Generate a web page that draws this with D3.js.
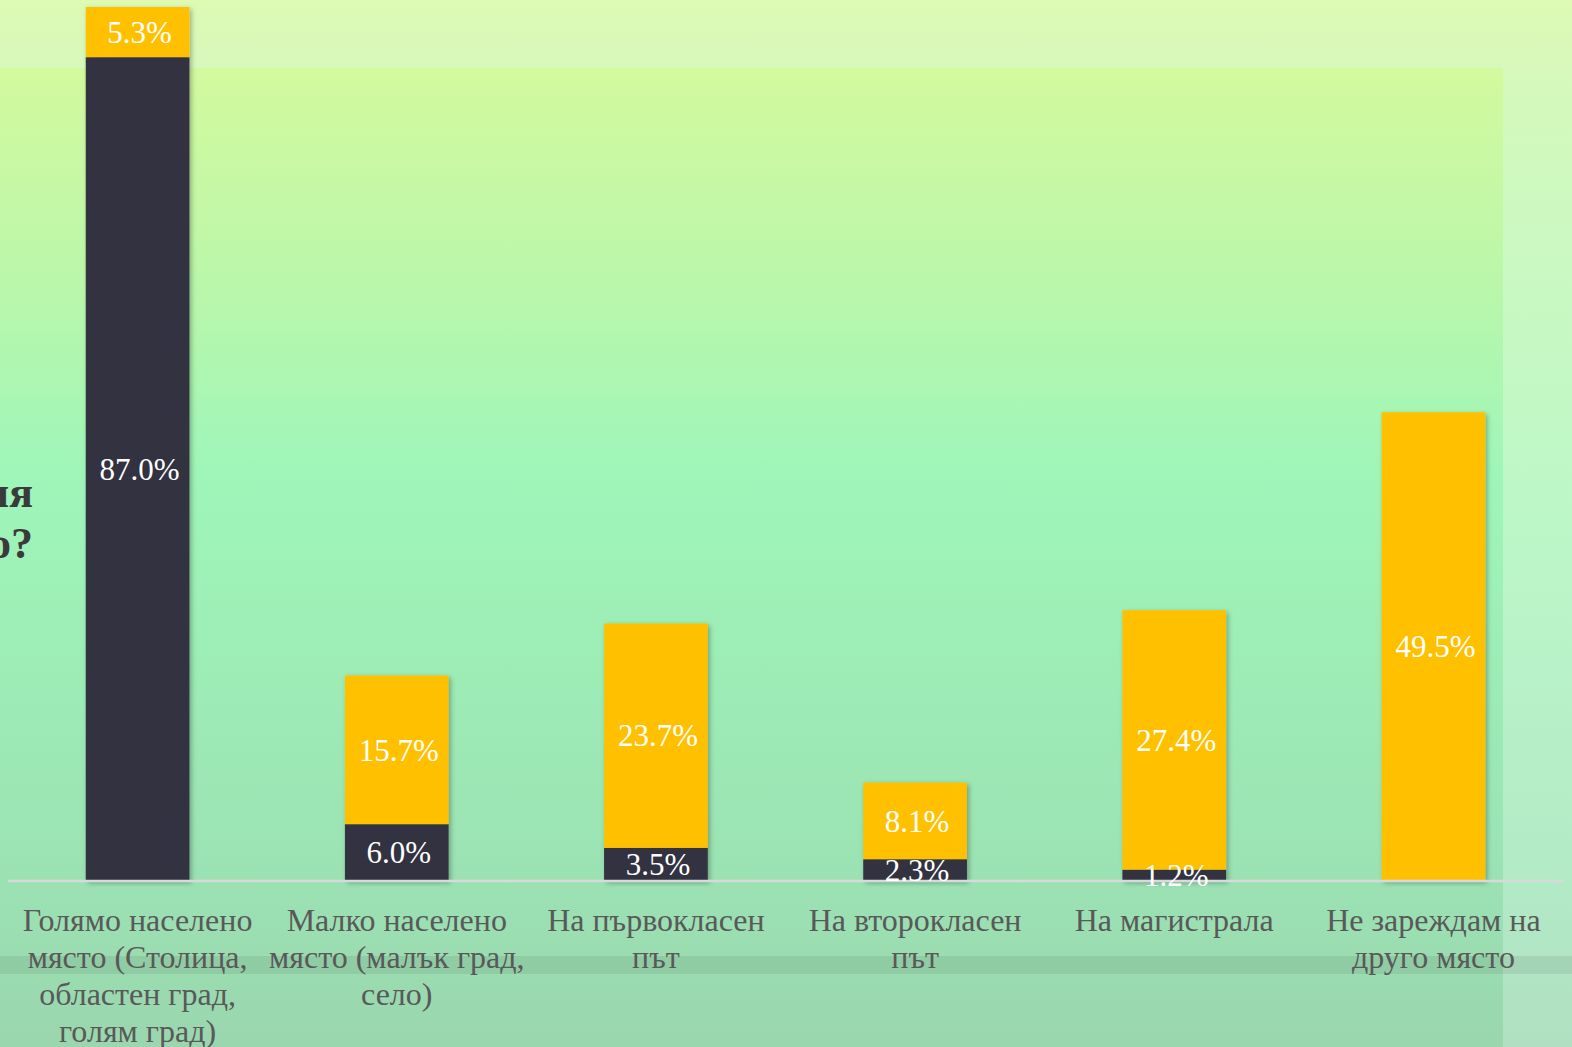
<!DOCTYPE html>
<html>
<head>
<meta charset="utf-8">
<script src="https://cdn.jsdelivr.net/npm/d3@7"></script>
<style>
  html, body { margin: 0; padding: 0; overflow: hidden; }
  svg { display: block; }
</style>
</head>
<body>
<div id="chart"></div>
<script>
// categories (already broken into lines as on the slide)
const categories = [
  ["Голямо населено", "място (Столица,", "областен град,", "голям град)"],
  ["Малко населено", "място (малък град,", "село)"],
  ["На първокласен", "път"],
  ["На второкласен", "път"],
  ["На магистрала"],
  ["Не зареждам на", "друго място"]
];
// dark (bottom) series and yellow (top) series, in %
const darkValues = [87.0, 6.0, 3.5, 2.3, 1.2, 0];
const yellowValues = [5.3, 15.7, 23.7, 8.1, 27.4, 49.5];
// title fragments cut by the slide edge
const titleBits = ["ия", "о?"];

const width = 1572, height = 1047;
const baseY = 881;

const svg = d3.select("#chart").append("svg")
    .attr("width", width)
    .attr("height", height);

const defs = svg.append("defs");

let bgGrad = defs.append("linearGradient")
    .attr("id", "bgGrad").attr("x1", 0).attr("y1", 0).attr("x2", 0).attr("y2", 1);
[[0, "#defab4"], [0.065, "#d6f9bb"], [0.2, "#cdf9c0"], [0.5, "#bcf7c8"], [0.84, "#b2eac6"], [1, "#b0e0c1"]]
    .forEach(s => bgGrad.append("stop").attr("offset", s[0]).attr("stop-color", s[1]));

let panelGrad = defs.append("linearGradient")
    .attr("id", "panelGrad").attr("x1", 0).attr("y1", 0).attr("x2", 0).attr("y2", 1);
[[0, "#d3fa9e"], [0.2, "#bdf7a9"], [0.41, "#9ff6b9"], [0.83, "#9be2b3"], [1, "#9ad6ae"]]
    .forEach(s => panelGrad.append("stop").attr("offset", s[0]).attr("stop-color", s[1]));

defs.append("filter").attr("id", "shadow")
    .attr("x", "-20%").attr("y", "-5%").attr("width", "140%").attr("height", "110%")
  .append("feDropShadow")
    .attr("dx", 2).attr("dy", 2).attr("stdDeviation", 2.5)
    .attr("flood-color", "#000").attr("flood-opacity", 0.3);

// background layers
svg.append("rect").attr("width", width).attr("height", height).attr("fill", "url(#bgGrad)");
svg.append("rect").attr("x", 0).attr("y", 68).attr("width", 1503).attr("height", height - 68)
    .attr("fill", "url(#panelGrad)");
svg.append("rect").attr("x", 0).attr("y", 956).attr("width", width).attr("height", 18)
    .attr("fill", "#000").attr("opacity", 0.07);

// title fragments
svg.append("g")
    .style("font", "bold 44px 'Liberation Serif', serif")
    .attr("fill", "#3a3a3a")
    .selectAll("text")
    .data(titleBits)
    .join("text")
    .attr("x", 33)
    .attr("y", (d, i) => 507 + i * 51)
    .attr("text-anchor", "end")
    .text(d => d);

const x = d3.scaleBand()
    .domain(d3.range(categories.length))
    .range([8, 1563])
    .paddingInner(0.6)
    .paddingOuter(0.3);

const y = d3.scaleLinear()
    .domain([0, 92.3])
    .range([baseY, 7]);

const rows = categories.map((c, i) => ({i: i, dark: darkValues[i], yellow: yellowValues[i]}));
const stack = d3.stack().keys(["dark", "yellow"])(rows);
const colors = {dark: "#30323f", yellow: "#ffc000"};

const bars = svg.append("g").attr("filter", "url(#shadow)");
stack.forEach(layer => {
    bars.append("g")
        .attr("fill", colors[layer.key])
        .selectAll("rect")
        .data(layer.filter(d => d[1] - d[0] > 0))
        .join("rect")
        .attr("x", d => x(d.data.i))
        .attr("y", d => y(d[1]))
        .attr("width", x.bandwidth())
        .attr("height", d => y(d[0]) - y(d[1]));
});

// axis line
svg.append("line")
    .attr("x1", 8).attr("x2", 1563)
    .attr("y1", baseY).attr("y2", baseY)
    .attr("stroke", "#d9d9d9")
    .attr("stroke-width", 2.5);

// value labels
const labels = svg.append("g")
    .style("font", "31px 'Liberation Serif', serif")
    .attr("fill", "#ffffff")
    .attr("text-anchor", "middle");
stack.forEach(layer => {
    labels.append("g")
        .selectAll("text")
        .data(layer.filter(d => d[1] - d[0] > 0))
        .join("text")
        .attr("x", d => x(d.data.i) + x.bandwidth() / 2 + 2)
        .attr("y", d => (y(d[0]) + y(d[1])) / 2)
        .attr("dy", "0.35em")
        .text(d => (d[1] - d[0]).toFixed(1) + "%");
});

// category labels
const cat = svg.append("g")
    .style("font", "32px 'Liberation Serif', serif")
    .attr("fill", "#595959")
    .attr("text-anchor", "middle")
    .selectAll("text")
    .data(categories)
    .join("text")
    .attr("x", (d, i) => x(i) + x.bandwidth() / 2)
    .attr("y", 931);
cat.selectAll("tspan")
    .data(d => d)
    .join("tspan")
    .attr("x", function() { return d3.select(this.parentNode).attr("x"); })
    .attr("dy", (d, i) => i === 0 ? 0 : 37)
    .text(d => d);
</script>
</body>
</html>
